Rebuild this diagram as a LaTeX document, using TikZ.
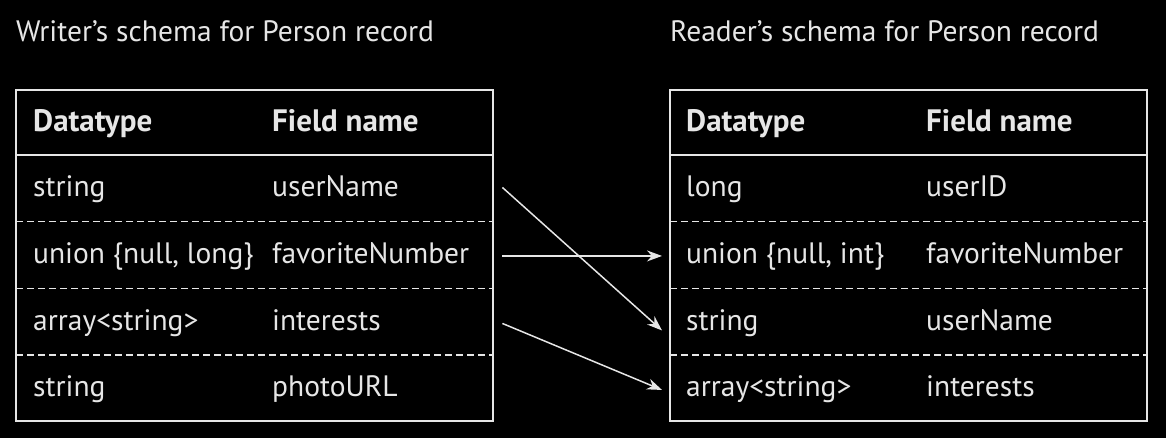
\documentclass[tikz,border=0pt]{standalone}
\usepackage{fontspec}
\setmainfont{PT Sans}
\usetikzlibrary{arrows.meta,calc}
\definecolor{ink}{HTML}{E6E6E6}
\begin{document}
\begin{tikzpicture}[x=1pt,y=-1pt,
  txt/.style={anchor=base west, inner sep=0pt, text=ink, font=\fontsize{29.5}{34}\selectfont},
  hdr/.style={txt, font=\fontsize{31}{36}\selectfont\bfseries},
  frame/.style={draw=ink, line width=2pt},
  sep/.style={draw=ink, line width=1.2pt, dash pattern=on 7pt off 4pt},
  link/.style={draw=ink, line width=1.5pt, -{Stealth[length=15pt,width=11pt]}},
  rowbox/.style={minimum width=477pt, minimum height=66.5pt, inner sep=0pt, anchor=north west},
  headbox/.style={rowbox, minimum height=65pt}]
\fill[black] (0,0) rectangle (1166,438);
\useasboundingbox (0,0) rectangle (1166,438);

% ---- titles
\node[txt] (wtitle) at (16,42) {Writer’s schema for Person record};
\node[txt] (rtitle) at (670,42) {Reader’s schema for Person record};

% ---- writer's table rows
\node[headbox] (wh) at (16,90) {};
\node[rowbox] (wr1) at (16,155) {};
\node[rowbox] (wr2) at (16,221.5) {};
\node[rowbox] (wr3) at (16,288) {};
\node[rowbox] (wr4) at (16,354.5) {};
% ---- reader's table rows
\node[headbox] (rh) at (670,90) {};
\node[rowbox] (rr1) at (670,155) {};
\node[rowbox] (rr2) at (670,221.5) {};
\node[rowbox] (rr3) at (670,288) {};
\node[rowbox] (rr4) at (670,354.5) {};

% ---- frames and rules
\foreach \t in {w,r}{
  \draw[frame] (\t h.north west) rectangle (\t r4.south east);
  \draw[frame] (\t h.south west) -- (\t h.south east);
  \draw[sep] (\t r1.south west) -- (\t r1.south east);
  \draw[sep] (\t r2.south west) -- (\t r2.south east);
  \draw[sep] (\t r3.south west) -- (\t r3.south east);
}

% ---- writer's cells
\node[hdr] (wht) at ($(wh.north west)+(17,42)$) {Datatype};
\node[hdr] (whn) at ($(wh.north west)+(256,42)$) {Field name};
\node[txt] (w1t) at ($(wr1.north west)+(17,42)$) {string};
\node[txt] (w1n) at ($(wr1.north west)+(256,42)$) {userName};
\node[txt] (w2t) at ($(wr2.north west)+(17,42)$) {union \{null, long\}};
\node[txt] (w2n) at ($(wr2.north west)+(256,42)$) {favoriteNumber};
\node[txt] (w3t) at ($(wr3.north west)+(17,42)$) {array<string>};
\node[txt] (w3n) at ($(wr3.north west)+(256,42)$) {interests};
\node[txt] (w4t) at ($(wr4.north west)+(17,42)$) {string};
\node[txt] (w4n) at ($(wr4.north west)+(256,42)$) {photoURL};

% ---- reader's cells
\node[hdr] (rht) at ($(rh.north west)+(16,42)$) {Datatype};
\node[hdr] (rhn) at ($(rh.north west)+(256,42)$) {Field name};
\node[txt] (r1t) at ($(rr1.north west)+(16,42)$) {long};
\node[txt] (r1n) at ($(rr1.north west)+(256,42)$) {userID};
\node[txt] (r2t) at ($(rr2.north west)+(16,42)$) {union \{null, int\}};
\node[txt] (r2n) at ($(rr2.north west)+(256,42)$) {favoriteNumber};
\node[txt] (r3t) at ($(rr3.north west)+(16,42)$) {string};
\node[txt] (r3n) at ($(rr3.north west)+(256,42)$) {userName};
\node[txt] (r4t) at ($(rr4.north west)+(16,42)$) {array<string>};
\node[txt] (r4n) at ($(rr4.north west)+(256,42)$) {interests};

% ---- field resolution arrows
\draw[link] ($(wr1.east)+(9,-1)$) -- ($(rr3.west)+(-8,9)$);
\draw[link] ($(wr2.east)+(9,1)$) -- ($(rr2.west)+(-8,1)$);
\draw[link] ($(wr3.east)+(9,2)$) -- ($(rr4.west)+(-8,2)$);
\end{tikzpicture}
\end{document}
